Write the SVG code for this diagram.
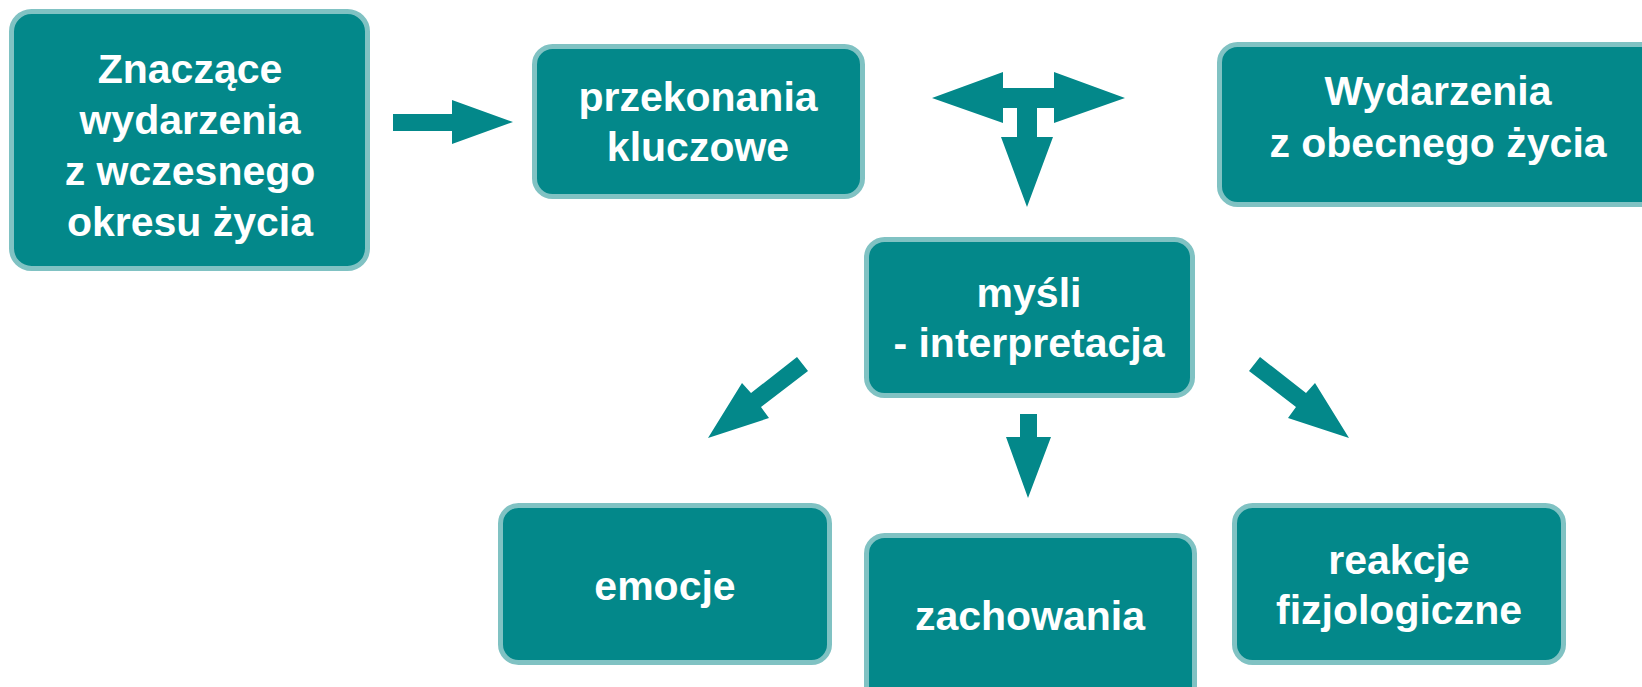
<svg xmlns="http://www.w3.org/2000/svg" width="1642" height="687" viewBox="0 0 1642 687">
<style>
.box{fill:#03888A;stroke:#80C2C3;stroke-width:5}
.t{font-family:"Liberation Sans",Arial,Helvetica,sans-serif;font-weight:bold;font-size:41px;fill:#FFFFFF;text-anchor:middle}
.arr{fill:#03888A;stroke:none}
</style>
<rect width="1642" height="687" fill="#FFFFFF"/>
<g id="node-znaczace">
<rect class="box" x="11.5" y="11.5" width="356" height="257" rx="20"/>
<text class="t" x="190" y="83">Znaczące</text>
<text class="t" x="190" y="134">wydarzenia</text>
<text class="t" x="190" y="185">z wczesnego</text>
<text class="t" x="190" y="236">okresu życia</text>
</g>
<g id="node-przekonania">
<rect class="box" x="534.5" y="46.5" width="328" height="150" rx="18"/>
<text class="t" x="698" y="111">przekonania</text>
<text class="t" x="698" y="161">kluczowe</text>
</g>
<g id="node-wydarzenia">
<rect class="box" x="1219.5" y="44.5" width="460" height="160" rx="18"/>
<text class="t" x="1438" y="105">Wydarzenia</text>
<text class="t" x="1438" y="157">z obecnego życia</text>
</g>
<g id="node-mysli">
<rect class="box" x="866.5" y="239.5" width="326" height="156" rx="18"/>
<text class="t" x="1029" y="307">myśli</text>
<text class="t" x="1029" y="357">- interpretacja</text>
</g>
<g id="node-emocje">
<rect class="box" x="500.5" y="505.5" width="329" height="157" rx="18"/>
<text class="t" x="665" y="600">emocje</text>
</g>
<g id="node-zachowania">
<rect class="box" x="866.5" y="535.5" width="328" height="170" rx="18"/>
<text class="t" x="1030" y="630">zachowania</text>
</g>
<g id="node-reakcje">
<rect class="box" x="1234.5" y="505.5" width="329" height="157" rx="18"/>
<text class="t" x="1399" y="574">reakcje</text>
<text class="t" x="1399" y="624">fizjologiczne</text>
</g>
<g id="connectors">
<polygon class="arr" points="393,114 452,114 452,100 513,122 452,144 452,131 393,131"/>
<polygon class="arr" points="932,98 1003,72 1003,88 1054,88 1054,72 1125,98 1054,123 1054,108 1037,108 1037,137 1053,137 1027,207 1001,137 1017,137 1017,108 1003,108 1003,123"/>
<polygon class="arr" points="797,357 808,371 761,407 769,418 708,438 742,383 751,393"/>
<polygon class="arr" points="1260,357 1249,371 1296,407 1288,418 1349,438 1315,383 1306,393"/>
<polygon class="arr" points="1020,414 1037,414 1037,437 1051,437 1028,498 1006,437 1020,437"/>
</g>
</svg>
